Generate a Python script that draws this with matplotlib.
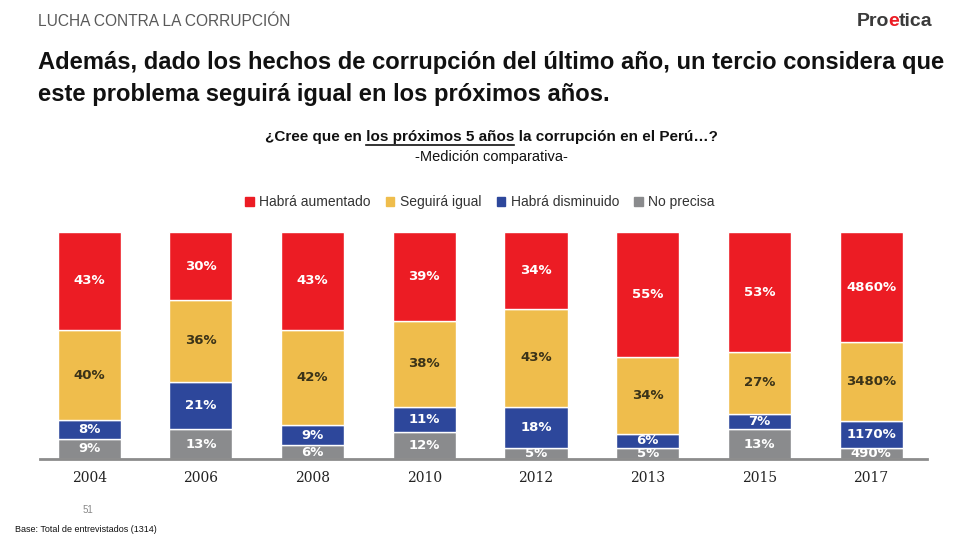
import matplotlib.pyplot as plt
from matplotlib.patches import Patch

years = ["2004", "2006", "2008", "2010", "2012", "2013", "2015", "2017"]
series = ["Habrá aumentado", "Seguirá igual", "Habrá disminuido", "No precisa"]

# values from bottom to top
no_precisa = [9, 13, 6, 12, 5, 5, 13, 4.9]
disminuido = [8, 21, 9, 11, 18, 6, 7, 11.7]
igual = [40, 36, 42, 38, 43, 34, 27, 34.8]
aumentado = [43, 30, 43, 39, 34, 55, 53, 48.6]

# labels as printed in the source
lbl_no_precisa = ["9%", "13%", "6%", "12%", "5%", "5%", "13%", "490%"]
lbl_disminuido = ["8%", "21%", "9%", "11%", "18%", "6%", "7%", "1170%"]
lbl_igual = ["40%", "36%", "42%", "38%", "43%", "34%", "27%", "3480%"]
lbl_aumentado = ["43%", "30%", "43%", "39%", "34%", "55%", "53%", "4860%"]

colors = {"aum": "#EC1C24", "igual": "#EFBD4C", "dism": "#2D479B", "np": "#8A8B8D"}

plt.rcParams['font.family'] = ['Liberation Sans', 'DejaVu Sans']

fig = plt.figure(figsize=(9.6, 5.4), dpi=100)
ax = fig.add_axes([40 / 960, (540 - 459) / 540, 887 / 960, 227 / 540])

x = list(range(len(years)))
w = 0.565
stack = [
    (no_precisa, lbl_no_precisa, colors["np"], "white"),
    (disminuido, lbl_disminuido, colors["dism"], "white"),
    (igual, lbl_igual, colors["igual"], "#3B3318"),
    (aumentado, lbl_aumentado, colors["aum"], "white"),
]
bottom = [0] * len(years)
for vals, lbls, col, tcol in stack:
    ax.bar(x, vals, w, bottom=bottom, color=col, edgecolor="white", linewidth=1)
    for i, v in enumerate(vals):
        ax.text(i, bottom[i] + v / 2, lbls[i], ha="center", va="center",
                color=tcol, fontsize=9.5, fontweight="bold", family="DejaVu Sans")
    bottom = [b + v for b, v in zip(bottom, vals)]

ax.set_xlim(-0.44, 7.5)
ax.set_ylim(0, 100)
for s in ["top", "right", "left"]:
    ax.spines[s].set_visible(False)
ax.spines["bottom"].set_color("#8C8C8C")
ax.spines["bottom"].set_linewidth(2)
ax.set_yticks([])
ax.set_xticks(x)
ax.set_xticklabels(years, fontsize=10, family="DejaVu Serif", color="#222222")
ax.tick_params(axis="x", length=0, pad=9)

# header
fig.text(38 / 960, 1 - 22 / 540, "LUCHA CONTRA LA CORRUPCIÓN", fontsize=11.2,
         color="#595959", va="center")
fig.text(857 / 960, 1 - 22 / 540, "Pro", fontsize=14, fontweight="bold",
         color="#3A3A3A", va="center")
fig.text(888 / 960, 1 - 22 / 540, "e", fontsize=14, fontweight="bold",
         color="#EC1C24", va="center")
fig.text(898.5 / 960, 1 - 22 / 540, "tica", fontsize=14, fontweight="bold",
         color="#3A3A3A", va="center")

fig.text(38 / 960, 1 - 63 / 540,
         "Además, dado los hechos de corrupción del último año, un tercio considera que",
         fontsize=17.1, fontweight="bold", color="#111111", va="center")
fig.text(38 / 960, 1 - 95 / 540, "este problema seguirá igual en los próximos años.",
         fontsize=17.1, fontweight="bold", color="#111111", va="center")

# question with underlined part
q1, q2, q3 = "¿Cree que en ", "los próximos 5 años", " la corrupción en el Perú…?"
qprops = dict(fontsize=11, fontweight="bold", color="#111111", va="center")
renderer = fig.canvas.get_renderer()
parts = []
for s in (q1, q2, q3):
    t = fig.text(0, 0, s, **qprops)
    parts.append(t.get_window_extent(renderer).width)
    t.remove()
total = sum(parts)
x0 = 491 - total / 2
yq = 540 - 137
fig.text(x0 / 960, yq / 540, q1 + q2 + q3, **qprops)
ux0 = x0 + parts[0]
fig.add_artist(plt.Line2D([ux0 / 960, (ux0 + parts[1]) / 960],
                          [(yq - 8) / 540, (yq - 8) / 540],
                          color="#111111", linewidth=1.2))

fig.text(491 / 960, 1 - 157 / 540, "-Medición comparativa-", fontsize=10.5,
         color="#111111", ha="center", va="center")

handles = [Patch(color=colors[k], label=s) for k, s in zip(["aum", "igual", "dism", "np"], series)]
fig.legend(handles=handles, loc="center", bbox_to_anchor=(480 / 960, 1 - 202 / 540),
           ncol=4, frameon=False, fontsize=10, handlelength=0.6, handleheight=0.6,
           handletextpad=0.4, columnspacing=1.1, labelcolor="#333333")

fig.text(83 / 960, 1 - 510 / 540, "51", fontsize=7, color="#888888", va="center")
fig.text(15 / 960, 1 - 530 / 540, "Base: Total de entrevistados (1314)", fontsize=6.5,
         color="#111111", va="center")

fig.savefig("out.png", dpi=100)
